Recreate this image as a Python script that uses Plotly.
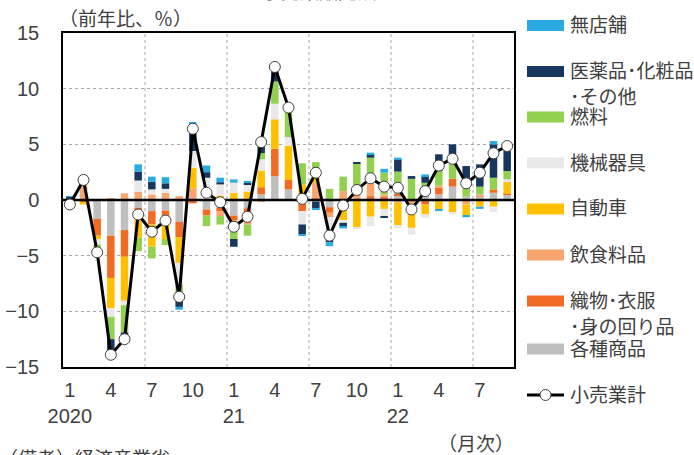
import plotly.graph_objects as go

# ---------------- data ----------------
months = ["2020-01","2020-02","2020-03","2020-04","2020-05","2020-06","2020-07","2020-08","2020-09","2020-10","2020-11","2020-12",
          "2021-01","2021-02","2021-03","2021-04","2021-05","2021-06","2021-07","2021-08","2021-09","2021-10","2021-11","2021-12",
          "2022-01","2022-02","2022-03","2022-04","2022-05","2022-06","2022-07","2022-08","2022-09"]

tick_idx = [0, 3, 6, 9, 12, 15, 18, 21, 24, 27, 30]
tick_text = ["1<br>2020", "4", "7", "10", "1<br>21", "4", "7", "10", "1<br>22", "4", "7"]

kakushu = [-0.3, 0, -1.7, -3.2, -2.7, -0.7, -1.0, -0.95, -1.95, 0, -0.85, -0.7, -1.4, -0.75, 0.5, 2.15, 0.95,
           -0.25, -0.15, -0.65, -0.4, 0, 0.1, 0.1, 0.35, 0, 0.45, 0.5, 1.2, 0.3, 0.35, 0.65, 0.5]
orimono = [-0.1, -0.25, -1.5, -3.8, -2.4, -0.9, -1.2, -0.65, -1.4, -0.3, -0.55, -0.3, -0.4, -0.6, 0.65, 2.45, 0.85,
           -0.75, 0.15, -0.5, 0.1, 0, 0.25, 0.15, 0.2, 0, -0.4, 0.6, 0.7, 0, 0, 0.3, 0.05]
inshoku = [-0.1, 1.7, 0, 0.1, 0.6, 0.75, 0.5, 0.65, 0.35, 1.05, 0, -0.45, -0.5, -0.85, -0.15, 0, 0,
           0.35, 1.4, -0.4, 0.7, 0.5, 1.15, 0.25, -0.25, -0.3, 0.15, 0.2, 0, -0.4, 0.15, 0, 0]
jidosha = [0, -0.15, -0.3, -2.7, -3.95, -1.8, -2.0, -1.9, -2.3, 1.85, 0, 0.4, 0.65, 0.75, 1.5, 2.65, 3.05,
           1.05, 0.45, 0, -1.4, -2.45, -1.5, -0.8, -2.0, -2.2, -0.9, -0.85, -1.15, -1.0, -0.6, -0.6, 1.15]
kikai = [0, 0, -0.5, -0.8, -0.4, 1.0, 0.45, 0.35, -1.95, 1.5, 2.0, 1.0, 0.9, 0.65, 1.0, 1.4, 0.8,
         -1.2, 0.5, -1.3, -0.25, -0.1, -0.85, -0.65, -0.3, -0.6, -0.3, 0, -0.15, 0, 0, -0.5, 0.15]
nenryo = [-0.2, 0, -0.45, -2.0, -2.45, -1.2, -1.05, -0.55, -0.7, 0, -0.95, -0.75, -1.2, -1.0, 0.55, 2.0, 2.45,
          1.9, 0.9, 1.0, 1.3, 2.75, 2.3, 1.95, 2.0, 1.9, 0.95, 1.3, 1.8, 0.9, 0.7, 1.05, 0.75]
iyaku = [0.3, 0.35, 0, -1.05, -0.6, 0.8, 0.7, 0.5, -1.3, 2.1, 0.5, 0.2, -0.7, 0.15, 1.0, 0.9, 0,
         -0.9, -0.6, -0.95, -0.35, 0.15, 0.3, -0.15, 1.1, 0.25, 0.6, 1.5, 1.3, 1.85, 2.0, 3.0, 2.1]
mutenpo = [0.05, 0.15, 0, 0, 0, 0.65, 0.45, 0.55, -0.25, 0.5, 0.6, 0.4, 0.3, 0.15, 0.05, 0.2, 0,
           -0.1, -0.15, -0.35, -0.15, 0, 0.15, 0.35, 0.15, 0, 0.15, -0.15, 0, -0.15, -0.2, 0.3, 0]
total = [-0.4, 1.8, -4.7, -13.9, -12.5, -1.3, -2.85, -1.85, -8.7, 6.4, 0.65, -0.2, -2.4, -1.5, 5.2, 11.95, 8.3,
         0.1, 2.45, -3.2, -0.5, 0.9, 1.95, 1.2, 1.1, -0.85, 0.8, 3.1, 3.7, 1.5, 2.45, 4.2, 4.85]

# stack order (bottom -> top)
series_names = ["各種商品", "織物･衣服･身の回り品", "飲食料品", "自動車", "機械器具", "燃料", "医薬品･化粧品･その他", "無店舗"]
series_vals = [kakushu, orimono, inshoku, jidosha, kikai, nenryo, iyaku, mutenpo]
series_colors = ["#BFBFBF", "#F26B22", "#F9A56F", "#FFC000", "#E9E9E9", "#92D050", "#17375E", "#29ABE2"]
legend_labels = ["各種商品", "織物･衣服\n･身の回り品", "飲食料品", "自動車", "機械器具", "燃料", "医薬品･化粧品\n･その他", "無店舗"]
legend_rows = [349, 301, 255, 209, 163, 117, 71.5, 25.5]
total_name = "小売業計"

# ---------------- layout geometry ----------------
W, H = 694, 455
L, R, T, B = 63, 514, 33, 367
FONT = "Liberation Sans, Arial, Noto Sans CJK JP, sans-serif"
TXT = "#404040"

def px(x):
    return (x - L) / (R - L)

def py(y):
    return (B - y) / (B - T)

xs = list(range(len(months)))
xr = [-0.5, len(months) - 0.5]

fig = go.Figure()
for name, vals, col in zip(series_names, series_vals, series_colors):
    fig.add_trace(go.Bar(x=xs, y=vals, name=name, marker=dict(color=col, line=dict(width=0)),
                         width=0.55, showlegend=False))

# zero line over the bars
fig.add_trace(go.Scatter(x=xr, y=[0, 0], mode="lines", line=dict(color="black", width=2.6),
                         hoverinfo="skip", showlegend=False))

fig.add_trace(go.Scatter(x=xs, y=total, name=total_name, mode="lines+markers",
                         line=dict(color="black", width=3),
                         marker=dict(size=11, color="white", line=dict(color="#404040", width=1)),
                         showlegend=False))

shapes = []
# vertical dotted separators every 6 months
for k in range(6, len(months), 6):
    shapes.append(dict(type="line", xref="x", yref="paper", x0=k - 0.5, x1=k - 0.5, y0=0, y1=1,
                       line=dict(color="#A6A6A6", width=1, dash="dot"), layer="below"))

annotations = []
# manual legend
for lab, row, col in zip(legend_labels, legend_rows, series_colors):
    shapes.append(dict(type="rect", xref="paper", yref="paper", x0=px(527), x1=px(564),
                       y0=py(row + 5.5), y1=py(row - 5.5), fillcolor=col, line=dict(width=0)))
    for j, part in enumerate(lab.split("\n")):
        annotations.append(dict(xref="paper", yref="paper", x=px(568), y=py(row + 26 * j), text=part,
                                showarrow=False, xanchor="left", yanchor="middle",
                                font=dict(size=19, color=TXT, family=FONT)))
row = 395
shapes.append(dict(type="line", xref="paper", yref="paper", x0=px(527), x1=px(564), y0=py(row), y1=py(row),
                   line=dict(color="black", width=3)))
shapes.append(dict(type="circle", xref="paper", yref="paper", x0=px(540), x1=px(551),
                   y0=py(row + 5.5), y1=py(row - 5.5), fillcolor="white", line=dict(color="#404040", width=1)))
annotations.append(dict(xref="paper", yref="paper", x=px(568), y=py(row), text=total_name, showarrow=False,
                        xanchor="left", yanchor="middle", font=dict(size=19, color=TXT, family=FONT)))

# texts
annotations.append(dict(xref="paper", yref="paper", x=px(57), y=py(20), text="（前年比、％）", showarrow=False,
                        xanchor="left", yanchor="middle", font=dict(size=19, color=TXT, family=FONT)))
annotations.append(dict(xref="paper", yref="paper", x=px(476), y=py(444), text="（月次）", showarrow=False,
                        xanchor="center", yanchor="middle", font=dict(size=19, color=TXT, family=FONT)))
annotations.append(dict(xref="paper", yref="paper", x=px(-3), y=py(447), text="（備考）経済産業省", showarrow=False,
                        xanchor="left", yanchor="top", font=dict(size=19, color=TXT, family=FONT)))
annotations.append(dict(xref="paper", yref="paper", x=px(203), y=py(-7), text="（３）小売業販売額", showarrow=False,
                        xanchor="left", yanchor="middle", font=dict(size=19, color=TXT, family=FONT)))

fig.update_layout(
    width=W, height=H,
    margin=dict(l=L, r=W - R, t=T, b=H - B, pad=0, autoexpand=False),
    paper_bgcolor="white", plot_bgcolor="white",
    barmode="relative", showlegend=False,
    shapes=shapes, annotations=annotations,
    font=dict(family=FONT, color=TXT),
    xaxis=dict(range=xr, tickmode="array", tickvals=tick_idx, ticktext=tick_text, automargin=False,
               showgrid=False, zeroline=False, showline=True, mirror=True, linecolor="black", linewidth=1.5,
               ticks="", tickfont=dict(size=20, color=TXT, family=FONT), ticklabelstandoff=4),
    yaxis=dict(range=[-15, 15], tickmode="array", tickvals=[-15, -10, -5, 0, 5, 10, 15], automargin=False,
               showgrid=True, gridcolor="#A6A6A6", griddash="dot", gridwidth=1,
               zeroline=False, showline=True, mirror=True, linecolor="black", linewidth=1.5,
               ticks="", tickfont=dict(size=20, color=TXT, family=FONT), ticklabelstandoff=18),
)

fig.write_html("out.html", config={"displayModeBar": False},
               post_script="document.body.style.margin='0';document.body.style.padding='0';")
